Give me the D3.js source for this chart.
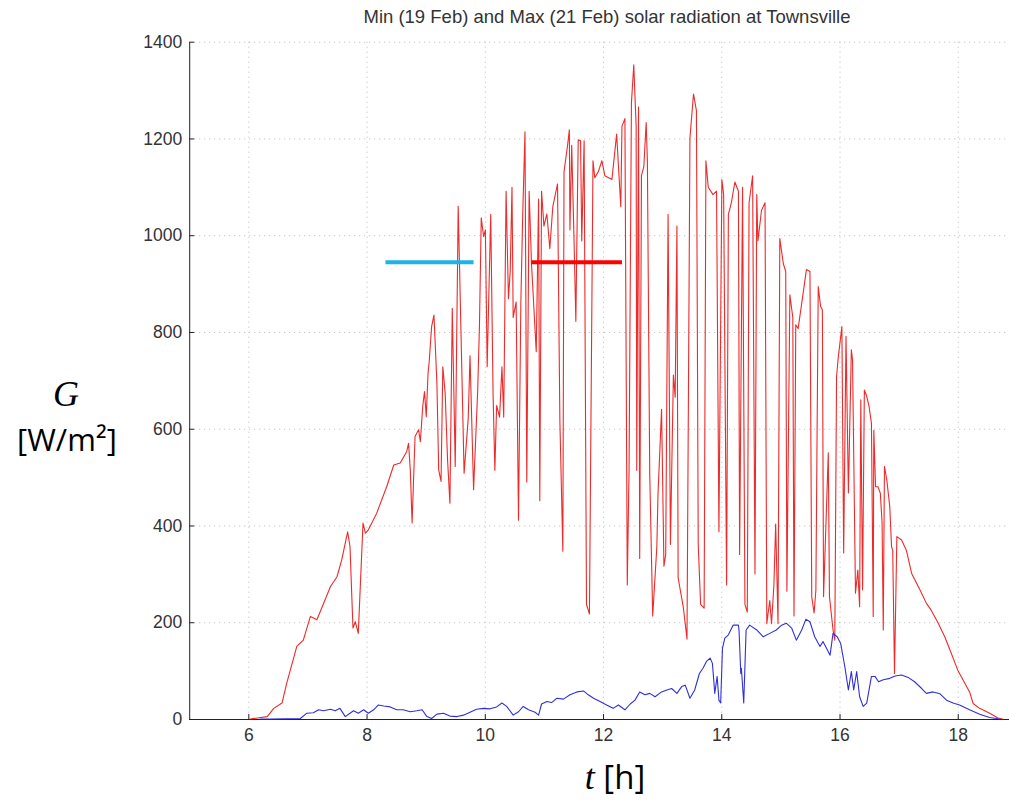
<!DOCTYPE html>
<html>
<head>
<meta charset="utf-8">
<script src="https://cdn.jsdelivr.net/npm/d3@7"></script>
<style>
  body { margin: 0; background: #fff; }
  svg { display: block; }
</style>
</head>
<body>
<div id="container"></div>
<script>
/* DATA */
// 21 Feb (max day), red
const maxT = [6.03,6.32,6.43,6.57,6.65,6.82,6.93,7.05,7.16,7.39,7.50,7.58,7.68,7.72,7.77,7.81,7.86,7.94,7.98,8.03,
  8.17,8.34,8.46,8.57,8.68,8.71,8.74,8.77,8.82,8.88,8.91,8.95,8.98,9.01,9.04,9.06,9.10,9.14,9.19,9.22,
  9.26,9.29,9.33,9.37,9.41,9.45,9.50,9.55,9.58,9.65,9.72,9.75,9.81,9.88,9.91,9.94,9.98,10.01,10.04,10.10,
  10.14,10.17,10.20,10.25,10.29,10.32,10.36,10.40,10.43,10.46,10.48,10.53,10.57,10.61,10.64,10.68,10.71,10.75,10.79,10.87,
  10.91,10.93,10.96,11.00,11.05,11.10,11.15,11.23,11.27,11.32,11.34,11.40,11.43,11.44,11.47,11.51,11.54,11.58,11.62,11.64,
  11.68,11.72,11.77,11.83,11.86,11.92,11.98,12.03,12.15,12.23,12.30,12.32,12.37,12.41,12.44,12.48,12.52,12.56,12.57,12.60,
  12.62,12.65,12.69,12.73,12.75,12.79,12.84,12.91,12.93,12.99,13.03,13.06,13.10,13.14,13.19,13.22,13.25,13.27,13.36,13.42,
  13.47,13.53,13.58,13.61,13.65,13.71,13.74,13.78,13.86,13.92,13.96,14.01,14.04,14.09,14.12,14.17,14.23,14.29,14.31,14.36,
  14.40,14.44,14.47,14.53,14.57,14.60,14.62,14.68,14.74,14.77,14.82,14.85,14.89,14.92,14.96,14.99,15.05,15.09,15.11,15.16,
  15.21,15.23,15.26,15.30,15.39,15.44,15.50,15.53,15.57,15.60,15.64,15.68,15.71,15.73,15.81,15.83,15.89,15.92,15.95,15.98,
  16.04,16.07,16.11,16.15,16.20,16.22,16.27,16.31,16.34,16.36,16.39,16.42,16.46,16.50,16.54,16.57,16.58,16.61,16.65,16.69,
  16.72,16.74,16.76,16.80,16.85,16.88,16.90,16.93,16.97,17.05,17.13,17.22,17.36,17.47,17.55,17.67,17.78,17.89,18.00,18.12,
  18.20,18.26,18.37,18.54,18.68,18.76];
const maxG = [0,5,22,33,74,150,163,212,205,274,294,329,387,356,188,201,177,405,384,391,
  425,480,525,529,553,570,515,405,584,598,573,646,677,625,715,739,811,835,694,515,
  491,728,673,536,446,849,522,1060,894,508,622,751,474,680,815,1036,997,1011,728,1043,
  672,514,648,624,728,624,1091,869,925,1099,830,862,411,862,1036,1214,490,1091,941,759,
  1075,451,1091,1019,1044,972,1059,1106,616,347,1131,1186,1218,1011,1186,988,822,1197,1195,988,
  1195,237,217,1154,1119,1131,1154,1123,1115,1209,1059,1225,1241,277,514,1273,1352,1225,514,1265,
  332,1123,1142,1233,1154,506,213,356,466,640,316,340,1043,361,711,665,1019,292,229,165,
  1201,1292,1257,361,237,229,1154,1099,1084,1091,387,1115,1084,277,1043,1067,1110,1091,340,1099,
  237,221,1067,1123,300,1084,988,1051,1067,197,245,197,277,403,197,993,941,925,264,877,
  830,213,815,807,885,929,925,253,219,266,894,853,846,253,550,253,184,163,708,749,
  811,343,791,467,763,743,260,308,232,660,267,680,667,646,611,212,597,480,480,467,
  405,184,522,494,439,356,349,94,377,370,349,301,267,239,225,198,170,136,101,74,
  56,32,22,12,2,0];

// 19 Feb (min day), blue
const minT = [6.20,6.37,6.88,6.99,7.10,7.19,7.27,7.39,7.47,7.55,7.64,7.72,7.78,7.86,7.95,8.03,8.12,8.20,8.29,8.40,
  8.51,8.62,8.74,8.85,8.94,9.02,9.10,9.19,9.30,9.41,9.53,9.64,9.75,9.86,9.98,10.09,10.20,10.29,10.37,10.48,
  10.57,10.65,10.74,10.85,10.91,10.96,11.05,11.13,11.22,11.33,11.44,11.56,11.67,11.75,11.84,11.95,12.06,12.17,12.26,12.37,
  12.46,12.54,12.62,12.71,12.79,12.88,12.99,13.08,13.16,13.25,13.33,13.39,13.47,13.55,13.63,13.69,13.75,13.81,13.85,13.89,
  13.93,13.96,13.99,14.02,14.06,14.12,14.20,14.29,14.30,14.33,14.34,14.38,14.42,14.48,14.60,14.71,14.82,14.93,15.02,15.10,
  15.19,15.27,15.36,15.43,15.50,15.58,15.67,15.72,15.78,15.84,15.89,15.96,16.02,16.09,16.15,16.20,16.24,16.29,16.34,16.40,
  16.46,16.54,16.60,16.66,16.74,16.85,16.94,17.05,17.16,17.27,17.39,17.47,17.58,17.70,17.81,17.92,18.03,18.20,18.37,18.54,
  18.71];
const minG = [0,0,1,12,13,19,17,20,17,22,5,12,17,12,19,12,19,29,27,25,
  19,19,15,17,19,5,1,10,12,6,5,8,14,20,22,21,25,33,26,8,
  15,26,19,14,8,31,36,34,43,41,50,56,58,50,43,36,29,22,29,19,
  31,39,56,50,53,46,56,60,63,53,67,70,43,60,94,105,119,126,115,53,
  88,39,33,146,167,174,194,194,184,94,105,33,184,194,184,170,177,184,194,198,
  188,163,184,206,201,170,150,160,146,132,177,170,156,108,60,98,60,98,46,26,
  33,88,88,77,81,84,89,91,86,77,63,53,56,52,39,33,29,19,10,3,
  0];

const xTicks = [6, 8, 10, 12, 14, 16, 18];
const yTicks = [0, 200, 400, 600, 800, 1000, 1200, 1400];
// hand-drawn key marks over the plot: [t start, t end, G]
const keyCyan = [8.32, 9.81, 944];
const keyRed = [10.79, 12.32, 944];

const title = "Min (19 Feb) and Max (21 Feb) solar radiation at Townsville";

/* CONSTANTS */
const width = 1009, height = 801;
const x0 = 189.2, hourPx = 59.12;
const yBottom = 719, yTop = 41.7;

const svg = d3.select("#container")
  .append("svg")
  .attr("width", width)
  .attr("height", height);

// SCALES
const xScale = d3.scaleLinear()
  .domain([5, 19])
  .range([x0, x0 + 14 * hourPx]);

const yScale = d3.scaleLinear()
  .domain([0, 1400])
  .range([yBottom, yTop]);

// GRID (dotted)
svg.append("g")
  .selectAll("line")
  .data(yTicks.filter(d => d > 0))
  .join("line")
  .attr("x1", xScale(5))
  .attr("x2", width)
  .attr("y1", d => yScale(d) + 0.5)
  .attr("y2", d => yScale(d) + 0.5)
  .attr("stroke", "#b8b8b8")
  .attr("stroke-dasharray", "1,4");

svg.append("g")
  .selectAll("line")
  .data(xTicks)
  .join("line")
  .attr("x1", d => xScale(d) + 0.5)
  .attr("x2", d => xScale(d) + 0.5)
  .attr("y1", yScale(1400))
  .attr("y2", yScale(0))
  .attr("stroke", "#b8b8b8")
  .attr("stroke-dasharray", "1,4");

// AXES
const xAxis = d3.axisBottom(xScale)
  .tickValues(xTicks)
  .tickFormat(d3.format("d"))
  .tickSizeInner(-5)
  .tickSizeOuter(0)
  .tickPadding(10);

const xAxisGroup = svg.append("g")
  .attr("transform", `translate(0, ${yBottom})`)
  .call(xAxis);

xAxisGroup.select(".domain").attr("d", `M${x0},0.5H${width}`);

const yAxis = d3.axisLeft(yScale)
  .tickValues(yTicks)
  .tickFormat(d3.format("d"))
  .tickSizeInner(-5)
  .tickSizeOuter(0)
  .tickPadding(7);

const yAxisGroup = svg.append("g")
  .attr("transform", `translate(${x0}, 0)`)
  .call(yAxis);

[xAxisGroup, yAxisGroup].forEach(g => {
  g.selectAll(".domain").attr("stroke", "#222");
  g.selectAll(".tick line").attr("stroke", "#222");
  g.selectAll(".tick text")
    .attr("fill", "#333")
    .style("font-family", "'Liberation Sans', Arial, sans-serif")
    .style("font-size", "17.5px");
});

// LINES
const lineGen = d3.line()
  .x(d => xScale(d[0]))
  .y(d => yScale(d[1]));

svg.append("path")
  .datum(maxT.map((t, i) => [t, maxG[i]]))
  .attr("d", lineGen)
  .attr("fill", "none")
  .attr("stroke", "#ee2a2a")
  .attr("stroke-width", 1.1)
  .attr("stroke-linejoin", "round");

svg.append("path")
  .datum(minT.map((t, i) => [t, minG[i]]))
  .attr("d", lineGen)
  .attr("fill", "none")
  .attr("stroke", "#3030d8")
  .attr("stroke-width", 1.1)
  .attr("stroke-linejoin", "round");

// KEY MARKS
[[keyCyan, "#1eb2e8"], [keyRed, "#ff0000"]].forEach(([k, c]) => {
  svg.append("line")
    .attr("x1", xScale(k[0]))
    .attr("x2", xScale(k[1]))
    .attr("y1", yScale(k[2]))
    .attr("y2", yScale(k[2]))
    .attr("stroke", c)
    .attr("stroke-width", 4);
});

// TITLE
svg.append("text")
  .attr("x", 607)
  .attr("y", 23)
  .attr("text-anchor", "middle")
  .attr("fill", "#333")
  .style("font-family", "'Liberation Sans', Arial, sans-serif")
  .style("font-size", "18.5px")
  .text(title);

// Y LABEL
svg.append("text")
  .attr("x", 66)
  .attr("y", 406)
  .attr("text-anchor", "middle")
  .style("font-family", "'Liberation Serif', 'Times New Roman', serif")
  .style("font-style", "italic")
  .style("font-size", "36px")
  .text("G");

svg.append("text")
  .attr("x", 67)
  .attr("y", 451)
  .attr("text-anchor", "middle")
  .style("font-family", "'Open Sans', 'Liberation Sans', sans-serif")
  .style("font-size", "31px")
  .text("[W/m²]");

// X LABEL
const xl = svg.append("text")
  .attr("x", 615)
  .attr("y", 789)
  .attr("text-anchor", "middle");

xl.append("tspan")
  .style("font-family", "'Liberation Serif', 'Times New Roman', serif")
  .style("font-style", "italic")
  .style("font-size", "36px")
  .text("t");

xl.append("tspan")
  .style("font-family", "'Open Sans', 'Liberation Sans', sans-serif")
  .style("font-size", "33px")
  .text(" [h]");
</script>
</body>
</html>
